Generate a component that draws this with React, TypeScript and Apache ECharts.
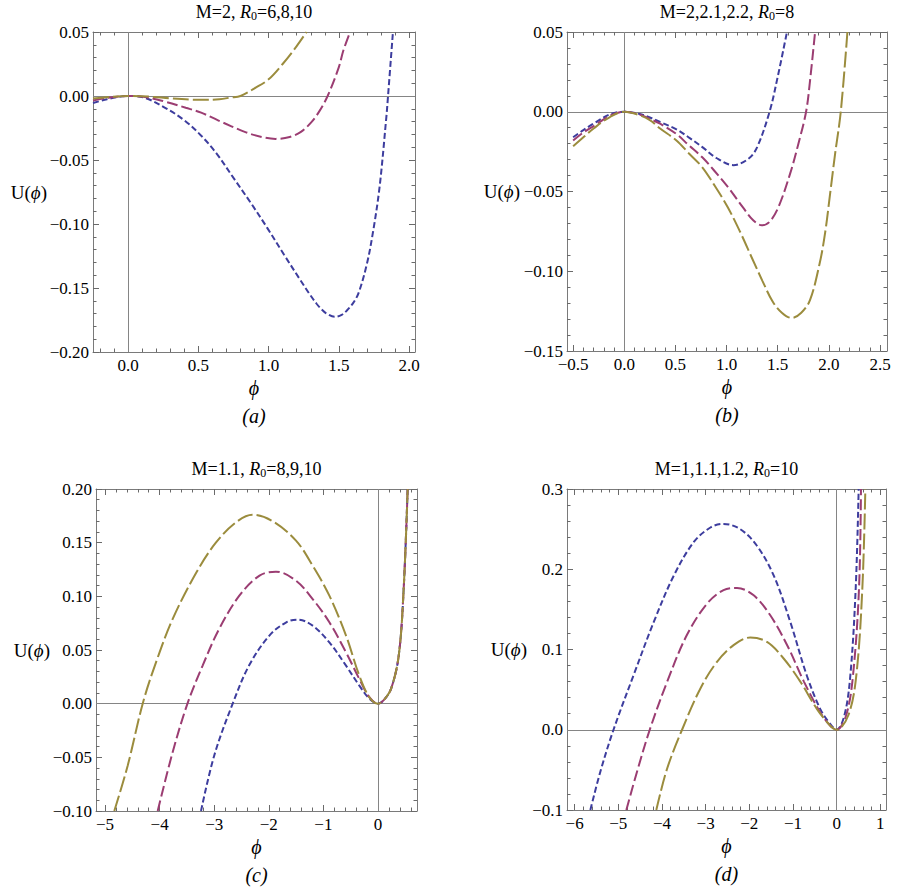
import React, { useEffect, useRef } from "react";
import * as echarts from "echarts";

const SERIF = '"Liberation Serif", "DejaVu Serif", "Times New Roman", serif';
const BLUE = "#3d3d9e";
const MAGENTA = "#9b3d72";
const GOLD = "#9b8c3d";
const FRAME = "#7a7a7a";
const TICK = "#6a6a6a";
const ZERO = "#858585";

// ---------- Panel (a): M=2, R0=6,8,10 ----------
const A_BLUE: [number, number][] = [
  [-0.25, -0.0055], [-0.15, -0.0025], [-0.07, -0.0008], [0, 0], [0.12, -0.0015], [0.26, -0.009],
  [0.4, -0.019], [0.52, -0.031], [0.63, -0.045], [0.75, -0.064], [0.87, -0.083], [0.99, -0.103],
  [1.11, -0.124], [1.23, -0.1445], [1.29, -0.1545], [1.343, -0.1625], [1.38, -0.167], [1.41, -0.1698],
  [1.47, -0.1725], [1.52, -0.171], [1.557, -0.1676], [1.6, -0.162], [1.64, -0.154], [1.7, -0.131],
  [1.745, -0.105], [1.79, -0.071], [1.838, -0.0165], [1.85, 0], [1.885, 0.05],
];
const A_MAG: [number, number][] = [
  [-0.25, -0.0035], [-0.15, -0.0015], [0, 0], [0.12, -0.0008], [0.26, -0.0043], [0.41, -0.0092],
  [0.52, -0.013], [0.64, -0.019], [0.83, -0.028], [0.95, -0.032], [1.05, -0.0335], [1.15, -0.032],
  [1.23, -0.028], [1.3, -0.021], [1.355, -0.013], [1.42, 0], [1.5, 0.0225], [1.532, 0.0355], [1.58, 0.05],
];
const A_GOLD: [number, number][] = [
  [-0.25, -0.002], [-0.12, -0.0006], [0, 0], [0.15, -0.0005], [0.3, -0.0018], [0.45, -0.0028],
  [0.55, -0.003], [0.65, -0.0025], [0.73, -0.0012], [0.8, 0], [0.9, 0.006], [1.0, 0.013],
  [1.1, 0.025], [1.2, 0.039], [1.27, 0.05],
];
const A_X_TICKS = [0, 0.5, 1, 1.5, 2];
const A_Y_TICKS = [-0.2, -0.15, -0.1, -0.05, 0, 0.05];

// ---------- Panel (b): M=2,2.1,2.2, R0=8 ----------
const B_BLUE: [number, number][] = [
  [-0.5, -0.016], [-0.4, -0.0115], [-0.3, -0.0074], [-0.14, -0.0016], [0, 0], [0.15, -0.0014],
  [0.25, -0.0036], [0.35, -0.0064], [0.51, -0.011], [0.64, -0.0165], [0.76, -0.022], [0.9, -0.029],
  [1.067, -0.0335], [1.217, -0.0293], [1.3, -0.022], [1.42, 0], [1.5, 0.022], [1.59, 0.05],
];
const B_MAG: [number, number][] = [
  [-0.5, -0.018], [-0.4, -0.013], [-0.3, -0.009], [-0.14, -0.0025], [0, 0], [0.15, -0.0017],
  [0.25, -0.0045], [0.35, -0.0075], [0.51, -0.014], [0.63, -0.021], [0.76, -0.0284], [0.88, -0.037],
  [1.01, -0.047], [1.16, -0.06], [1.26, -0.068], [1.344, -0.0712], [1.42, -0.069], [1.507, -0.0597],
  [1.621, -0.0388], [1.702, -0.02], [1.777, 0], [1.816, 0.0197], [1.865, 0.05],
];
const B_GOLD: [number, number][] = [
  [-0.5, -0.0216], [-0.4, -0.016], [-0.3, -0.0105], [-0.14, -0.0033], [0, 0], [0.15, -0.0022],
  [0.25, -0.0053], [0.35, -0.0105], [0.51, -0.018], [0.63, -0.026], [0.76, -0.0346], [0.88, -0.046],
  [1.01, -0.0597], [1.13, -0.075], [1.25, -0.092], [1.35, -0.106], [1.45, -0.119], [1.54, -0.126],
  [1.637, -0.1293], [1.73, -0.126], [1.816, -0.118], [1.91, -0.095], [1.963, -0.076], [2.012, -0.0513],
  [2.061, -0.0262], [2.116, 0], [2.181, 0.05],
];
const B_X_TICKS = [-0.5, 0, 0.5, 1, 1.5, 2, 2.5];
const B_Y_TICKS = [-0.15, -0.1, -0.05, 0, 0.05];

// ---------- Panel (c): M=1.1, R0=8,9,10 ----------
const C_BLUE: [number, number][] = [
  [-3.242, -0.1], [-2.998, -0.048], [-2.662, 0], [-2.36, 0.0357], [-1.99, 0.0634], [-1.68, 0.0758],
  [-1.47, 0.0783], [-1.197, 0.0727], [-0.891, 0.0571], [-0.586, 0.0354], [-0.342, 0.0168],
  [-0.159, 0.0047], [0, 0], [0.1, 0.003], [0.24, 0.014], [0.38, 0.045], [0.47, 0.107], [0.543, 0.2],
];
const C_MAG: [number, number][] = [
  [-4.035, -0.1], [-3.76, -0.045], [-3.49, 0], [-3.21, 0.0357], [-2.91, 0.0696], [-2.54, 0.1006],
  [-2.17, 0.1193], [-1.87, 0.123], [-1.502, 0.1146], [-1.197, 0.0975], [-0.891, 0.0758],
  [-0.586, 0.0478], [-0.342, 0.023], [-0.159, 0.006], [0, 0], [0.1, 0.003], [0.24, 0.014],
  [0.38, 0.045], [0.47, 0.107], [0.543, 0.2],
];
const C_GOLD: [number, number][] = [
  [-4.83, -0.1], [-4.585, -0.0578], [-4.31, 0], [-4.066, 0.0385], [-3.76, 0.079], [-3.33, 0.122],
  [-2.97, 0.15], [-2.6, 0.169], [-2.3, 0.176], [-1.93, 0.17], [-1.502, 0.1519], [-1.197, 0.1286],
  [-0.891, 0.1006], [-0.586, 0.0634], [-0.342, 0.026], [-0.159, 0.006], [0, 0], [0.1, 0.003],
  [0.24, 0.014], [0.38, 0.045], [0.47, 0.107], [0.543, 0.2],
];
const C_X_TICKS = [-5, -4, -3, -2, -1, 0];
const C_Y_TICKS = [-0.1, -0.05, 0, 0.05, 0.1, 0.15, 0.2];

// ---------- Panel (d): M=1,1.1,1.2, R0=10 ----------
const D_BLUE: [number, number][] = [
  [-5.64, -0.1], [-5.41, -0.052], [-5.11, 0], [-4.65, 0.068], [-4.19, 0.134], [-3.73, 0.192],
  [-3.27, 0.234], [-2.89, 0.252], [-2.59, 0.2565], [-2.21, 0.25], [-1.83, 0.2296], [-1.44, 0.192],
  [-1.06, 0.134], [-0.68, 0.067], [-0.374, 0.0257], [-0.145, 0.007], [0, 0], [0.18, 0.0184],
  [0.314, 0.068], [0.436, 0.176], [0.504, 0.3],
];
const D_MAG: [number, number][] = [
  [-4.816, -0.1], [-4.57, -0.052], [-4.28, 0], [-3.88, 0.06], [-3.43, 0.118], [-2.97, 0.157],
  [-2.59, 0.174], [-2.28, 0.1766], [-1.9, 0.1675], [-1.52, 0.1426], [-1.13, 0.105], [-0.75, 0.06],
  [-0.374, 0.0215], [-0.145, 0.005], [0, 0], [0.22, 0.0184], [0.375, 0.068], [0.512, 0.176], [0.557, 0.3],
];
const D_GOLD: [number, number][] = [
  [-4.13, -0.1], [-3.885, -0.0489], [-3.54, 0], [-3.12, 0.0515], [-2.74, 0.0847], [-2.36, 0.1054],
  [-1.98, 0.1149], [-1.595, 0.1095], [-1.214, 0.0888], [-0.832, 0.06], [-0.45, 0.0257],
  [-0.145, 0.005], [0, 0], [0.27, 0.0184], [0.451, 0.068], [0.588, 0.176], [0.657, 0.3],
];
const D_X_TICKS = [-6, -5, -4, -3, -2, -1, 0, 1];
const D_Y_TICKS = [-0.1, 0, 0.1, 0.2, 0.3];

const TITLES = [
  ["M=2, ", "R", "0", "=6,8,10"],
  ["M=2,2.1,2.2, ", "R", "0", "=8"],
  ["M=1.1, ", "R", "0", "=8,9,10"],
  ["M=1,1.1,1.2, ", "R", "0", "=10"],
];
const PANEL_TAGS = ["a", "b", "c", "d"];

type Panel = {
  grid: { left: number; top: number; width: number; height: number };
  x: [number, number];
  y: [number, number];
  xTicks: number[];
  yTicks: number[];
  xMinor: number;
  yMinor: number;
  xDec: number;
  yDec: number;
  curves: [number, number][][];
  yNameX: number;
};

const PANELS: Panel[] = [
  { grid: { left: 93, top: 32, width: 322, height: 320 }, x: [-0.25, 2.042], y: [-0.2, 0.05],
    xTicks: A_X_TICKS, yTicks: A_Y_TICKS, xMinor: 0.1, yMinor: 0.01, xDec: 1, yDec: 2,
    curves: [A_BLUE, A_MAG, A_GOLD], yNameX: 47 },
  { grid: { left: 567, top: 32, width: 320, height: 319 }, x: [-0.56, 2.568], y: [-0.15, 0.05],
    xTicks: B_X_TICKS, yTicks: B_Y_TICKS, xMinor: 0.1, yMinor: 0.01, xDec: 1, yDec: 2,
    curves: [B_BLUE, B_MAG, B_GOLD], yNameX: 520 },
  { grid: { left: 96, top: 489, width: 321, height: 322 }, x: [-5.165, 0.714], y: [-0.1, 0.2],
    xTicks: C_X_TICKS, yTicks: C_Y_TICKS, xMinor: 0.2, yMinor: 0.01, xDec: 0, yDec: 2,
    curves: [C_BLUE, C_MAG, C_GOLD], yNameX: 50 },
  { grid: { left: 567, top: 489, width: 319, height: 321 }, x: [-6.175, 1.13], y: [-0.1, 0.3],
    xTicks: D_X_TICKS, yTicks: D_Y_TICKS, xMinor: 0.2, yMinor: 0.02, xDec: 0, yDec: 1,
    curves: [D_BLUE, D_MAG, D_GOLD], yNameX: 527 },
];

const STYLES = [
  { color: BLUE, dash: [6, 3] },
  { color: MAGENTA, dash: [11, 4] },
  { color: GOLD, dash: [16, 4] },
];

function minorTicks(min: number, max: number, step: number, majors: number[]): number[] {
  const out: number[] = [];
  const k0 = Math.ceil(min / step - 1e-9);
  const k1 = Math.floor(max / step + 1e-9);
  for (let k = k0; k <= k1; k++) {
    const v = Math.round(k * step * 1e6) / 1e6;
    if (!majors.some((m) => Math.abs(m - v) < 1e-9)) out.push(v);
  }
  return out;
}

function fmt(v: number, d: number): string {
  const s = Math.abs(v).toFixed(d);
  return (v < -1e-12 ? "\u2212" : "") + s;
}

function mkAxis(
  gridIndex: number, position: string, range: [number, number], ticks: number[], len: number,
  showLine: boolean, labelDec: number | null, isX: boolean
) {
  return {
    type: "value",
    gridIndex,
    position,
    min: range[0],
    max: range[1],
    axisLine: { show: showLine, onZero: false, lineStyle: { color: FRAME, width: 1 } },
    axisTick: { show: true, inside: true, length: len, customValues: ticks, lineStyle: { color: TICK, width: 1 } },
    axisLabel: labelDec === null
      ? { show: false }
      : {
          show: true,
          customValues: ticks,
          formatter: (v: number) => fmt(v, labelDec),
          color: "#000",
          fontFamily: SERIF,
          fontSize: 17,
          margin: isX ? 5 : 4,
        },
    splitLine: { show: false },
  };
}

export default function App() {
  const ref = useRef<HTMLDivElement>(null);
  useEffect(() => {
    if (!ref.current) return;
    const chart = echarts.init(ref.current, undefined, { renderer: "svg" });
    const grids: any[] = [];
    const xAxes: any[] = [];
    const yAxes: any[] = [];
    const series: any[] = [];
    const graphics: any[] = [];

    PANELS.forEach((p, g) => {
      grids.push({ ...p.grid, containLabel: false });
      const xMin = minorTicks(p.x[0], p.x[1], p.xMinor, p.xTicks);
      const yMin = minorTicks(p.y[0], p.y[1], p.yMinor, p.yTicks);
      xAxes.push(mkAxis(g, "bottom", p.x, p.xTicks, 6, true, p.xDec, true));
      xAxes.push(mkAxis(g, "bottom", p.x, xMin, 3.5, false, null, true));
      xAxes.push(mkAxis(g, "top", p.x, p.xTicks, 6, true, null, true));
      xAxes.push(mkAxis(g, "top", p.x, xMin, 3.5, false, null, true));
      yAxes.push(mkAxis(g, "left", p.y, p.yTicks, 6, true, p.yDec, false));
      yAxes.push(mkAxis(g, "left", p.y, yMin, 3.5, false, null, false));
      yAxes.push(mkAxis(g, "right", p.y, p.yTicks, 6, true, null, false));
      yAxes.push(mkAxis(g, "right", p.y, yMin, 3.5, false, null, false));

      series.push({
        type: "line",
        xAxisIndex: 4 * g,
        yAxisIndex: 4 * g,
        data: [],
        z: 1,
        silent: true,
        markLine: {
          silent: true,
          z: 1,
          symbol: ["none", "none"],
          label: { show: false },
          lineStyle: { color: ZERO, type: "solid", width: 1 },
          emphasis: { disabled: true },
          data: [{ xAxis: 0 }, { yAxis: 0 }],
        },
      });
      p.curves.forEach((c, i) => {
        series.push({
          type: "line",
          xAxisIndex: 4 * g,
          yAxisIndex: 4 * g,
          data: c,
          smooth: 0.35,
          symbol: "none",
          showSymbol: false,
          clip: true,
          z: 2 + i,
          lineStyle: { color: STYLES[i].color, width: 2, type: STYLES[i].dash },
        });
      });

      const cx = p.grid.left + p.grid.width / 2;
      const cy = p.grid.top + p.grid.height / 2;
      const bottom = p.grid.top + p.grid.height;
      const t = TITLES[g];
      graphics.push({
        type: "text",
        x: cx,
        y: p.grid.top - 20,
        style: {
          text: `{n|${t[0]}}{i|${t[1]}}{s|${t[2]}}{n|${t[3]}}`,
          align: "center",
          verticalAlign: "middle",
          fontFamily: SERIF,
          fontSize: 18,
          fill: "#000",
          rich: {
            n: { fontFamily: SERIF, fontSize: 18, lineHeight: 20, fill: "#000" },
            i: { fontFamily: SERIF, fontSize: 18, fontStyle: "italic", lineHeight: 20, fill: "#000" },
            s: { fontFamily: SERIF, fontSize: 12, lineHeight: 12, verticalAlign: "bottom", fill: "#000" },
          },
        },
      });
      graphics.push({
        type: "text",
        x: p.yNameX,
        y: cy,
        style: {
          text: "{n|U(}{i|\u03d5}{n|)}",
          align: "right",
          verticalAlign: "middle",
          fontFamily: SERIF,
          fontSize: 19,
          fill: "#000",
          rich: {
            n: { fontFamily: SERIF, fontSize: 19, fill: "#000" },
            i: { fontFamily: SERIF, fontSize: 19, fontStyle: "italic", fill: "#000" },
          },
        },
      });
      graphics.push({
        type: "text",
        x: cx,
        y: bottom + 36,
        style: {
          text: "\u03d5",
          align: "center",
          verticalAlign: "middle",
          fontFamily: SERIF,
          fontSize: 20,
          fontStyle: "italic",
          fill: "#000",
        },
      });
      graphics.push({
        type: "text",
        x: cx,
        y: bottom + 64,
        style: {
          text: `(${PANEL_TAGS[g]})`,
          align: "center",
          verticalAlign: "middle",
          fontFamily: SERIF,
          fontSize: 20,
          fontStyle: "italic",
          fill: "#000",
        },
      });
    });

    chart.setOption({
      animation: false,
      backgroundColor: "#fff",
      grid: grids,
      xAxis: xAxes,
      yAxis: yAxes,
      series,
      graphic: graphics,
    });
    return () => chart.dispose();
  }, []);
  return (
    <div
      ref={ref}
      style={{ position: "absolute", left: 0, top: 0, width: 904, height: 889, background: "#fff" }}
    />
  );
}
